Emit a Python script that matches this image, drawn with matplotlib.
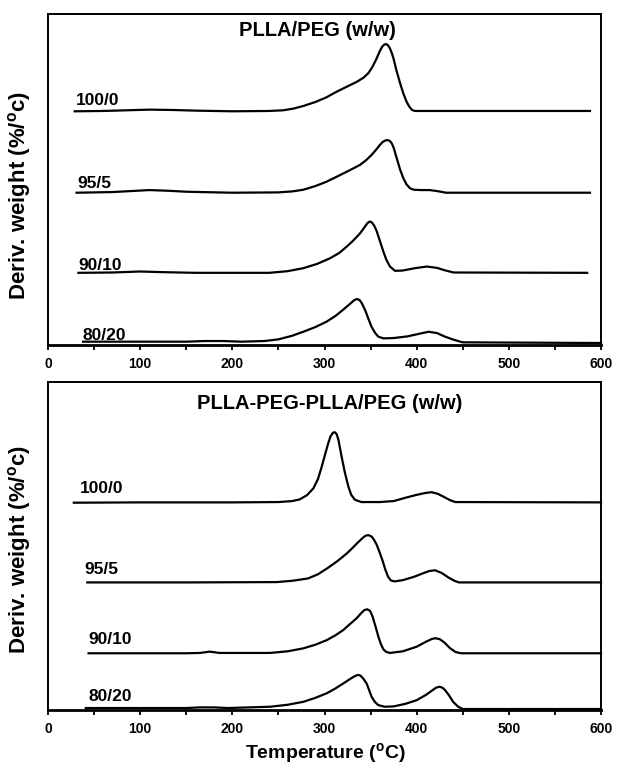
import matplotlib
matplotlib.use("Agg")
import matplotlib.pyplot as plt
from matplotlib.ticker import MultipleLocator

plt.rcParams['font.family'] = ['Liberation Sans', 'DejaVu Sans']
plt.rcParams['font.weight'] = 'bold'
plt.rcParams['mathtext.fontset'] = 'custom'
plt.rcParams['mathtext.rm'] = 'Liberation Sans:bold'
plt.rcParams['mathtext.it'] = 'Liberation Sans:bold'
plt.rcParams['mathtext.bf'] = 'Liberation Sans:bold'

# DTG curves: (temperature degC, relative height incl. offset)
top_title = "PLLA/PEG (w/w)"
bot_title = "PLLA-PEG-PLLA/PEG (w/w)"
ratios = ["100/0", "95/5", "90/10", "80/20"]

top_100_0 = [(29, 70.6), (60, 70.7), (85, 70.9), (110, 71.1), (135, 71.0), (160, 70.8), (200, 70.6),
             (240, 70.7), (255, 70.9), (266, 71.4), (277, 72.2), (290, 73.4), (302, 74.8), (313, 76.5),
             (324, 78.0), (335, 79.5), (342, 80.7), (347.5, 82.1), (352, 84.0), (356.6, 86.6), (360, 88.8),
             (362.5, 90.1), (365, 90.8), (367, 90.9), (369, 90.5), (371, 89.6), (373, 88.2), (375, 86.4),
             (378, 83.0), (382, 79.1), (385.5, 76.0), (389, 73.5), (392, 72.0), (395, 71.0), (398, 70.7),
             (588, 70.7)]
top_95_5 = [(31, 46.0), (70, 46.2), (90, 46.5), (110, 46.8), (130, 46.6), (150, 46.3), (200, 46.0),
            (250, 46.1), (265, 46.4), (277, 46.9), (290, 48.0), (302, 49.3), (313, 50.8), (326, 52.6),
            (338.5, 54.4), (345, 55.8), (351, 57.4), (356, 59.0), (360, 60.4), (363, 61.3), (366, 61.8),
            (368.5, 61.9), (371, 61.6), (373, 60.9), (375, 59.6), (378.3, 56.5), (382, 53.0), (385.5, 50.4),
            (389, 48.5), (393, 47.3), (397, 46.9), (405, 46.8), (414, 46.8), (422, 46.5), (432, 46.0),
            (588, 46.0)]
top_90_10 = [(33, 21.8), (70, 21.9), (100, 22.2), (125, 22.0), (160, 21.8), (240, 21.8), (260, 22.3),
             (277, 23.2), (292, 24.5), (306, 26.2), (316, 27.8), (324, 29.7), (331, 31.5), (338.5, 33.7),
             (344, 35.8), (346.5, 36.8), (349, 37.3), (351.5, 37.0), (354, 36.0), (356.6, 34.4), (360, 31.5),
             (363.9, 28.2), (367, 25.8), (371, 23.7), (376.5, 22.4), (385, 22.5), (398, 23.2), (411, 23.7),
             (422, 23.3), (430, 22.6), (440, 21.9), (585, 21.8)]
top_80_20 = [(38, 1.0), (150, 1.0), (170, 1.2), (190, 1.2), (210, 1.0), (235, 1.2), (250, 1.7), (265, 2.8),
             (277, 4.0), (290, 5.4), (302, 7.0), (312, 8.8), (320, 10.6), (328, 12.5), (332, 13.5),
             (335, 13.9), (338, 13.6), (340.5, 12.6), (344, 10.6), (347.5, 8.0), (351, 5.5), (355, 3.6),
             (358.4, 2.5), (364, 2.0), (375, 2.1), (390, 2.6), (403, 3.4), (413, 4.0), (422, 3.6), (430, 2.6),
             (440, 1.6), (450, 0.8), (600, 0.6)]

bot_100_0 = [(28, 63.2), (100, 63.3), (200, 63.3), (250, 63.4), (265, 63.7), (273, 64.2), (281, 65.5),
             (288, 67.6), (293, 70.5), (297, 74.2), (300.5, 77.8), (304, 81.3), (306.5, 83.4), (309, 84.5),
             (311, 84.7), (313, 84.2), (315, 82.5), (318.6, 77.2), (322, 72.5), (325.9, 68.1), (329, 65.6),
             (333, 64.1), (340, 63.4), (360, 63.4), (375, 63.7), (389, 64.8), (400, 65.6), (410, 66.2),
             (416.3, 66.4), (423, 65.9), (430, 64.9), (436, 64.0), (442, 63.4), (600, 63.3)]
bot_95_5 = [(42.6, 38.9), (150, 38.9), (248, 39.0), (265, 39.4), (282, 40.1), (293, 41.4), (303, 43.2),
            (314, 45.4), (324.5, 47.8), (331, 49.6), (337, 51.3), (342, 52.6), (345, 53.2), (348, 53.3),
            (351, 52.9), (353.5, 52.0), (356.4, 50.5), (359.5, 48.3), (362.8, 45.7), (366, 42.8),
            (369, 40.6), (372, 39.5), (376, 39.2), (385, 39.6), (397, 40.6), (408, 41.8), (414, 42.4),
            (420, 42.6), (427, 41.8), (435, 40.3), (441, 39.4), (446, 38.9), (600, 38.9)]
bot_90_10 = [(44, 17.3), (150, 17.3), (165, 17.4), (175.5, 17.8), (186, 17.4), (241, 17.4), (260, 17.9),
             (277, 18.8), (290, 19.9), (302.4, 21.3), (312, 22.8), (320.4, 24.4), (328, 26.3), (334.9, 28.0),
             (340, 29.6), (343.5, 30.5), (346.5, 30.7), (349.5, 30.2), (352, 28.6), (355, 25.8),
             (358.4, 22.4), (361, 20.2), (363.9, 18.5), (367, 17.7), (371, 17.4), (385, 17.9), (400, 19.3),
             (410, 20.8), (416, 21.6), (420, 21.9), (425, 21.6), (430, 20.6), (436, 18.9), (442, 17.7),
             (448, 17.3), (600, 17.3)]
bot_80_20 = [(41, 0.6), (150, 0.6), (165, 0.8), (180, 0.8), (195, 0.6), (241, 1.0), (260, 1.6), (277, 2.5),
             (290, 3.7), (302.4, 5.1), (312, 6.6), (320.4, 8.1), (328, 9.5), (332, 10.2), (336, 10.7),
             (339, 10.5), (342, 9.6), (345.7, 8.1), (348.5, 6.0), (351, 4.1), (354.5, 2.5), (358.4, 1.5),
             (365, 1.0), (375, 1.1), (388, 1.9), (400, 3.0), (410, 4.6), (417, 6.0), (421, 6.8), (424.6, 7.1),
             (428, 6.8), (431, 6.0), (435, 4.5), (439.5, 2.5), (445, 1.0), (450, 0.3), (600, 0.3)]

# label anchor (temperature, height)
top_label_pos = [(30, 73.8), (32, 48.7), (33, 23.9), (37.6, 3.0)]
bot_label_pos = [(35, 67.6), (40, 42.9), (43.4, 21.5), (43.4, 4.1)]


def draw_panel(ax, curves, label_pos, title, tx, ty):
    for c in curves:
        t = [p[0] for p in c]
        h = [p[1] for p in c]
        ax.plot(t, h, color='black', lw=1.6, solid_joinstyle='round', clip_on=False)
    for lab, (t, h) in zip(ratios, label_pos):
        ax.text(t, h, lab, fontsize=12.5, fontweight='bold', va='center', ha='left')
    ax.text(tx, ty, title, transform=ax.transAxes, fontsize=14.5, fontweight='bold',
            ha='center', va='center')
    ax.set_xlim(0, 600)
    ax.set_ylim(0, 100)
    ax.set_yticks([])
    ax.xaxis.set_major_locator(MultipleLocator(100))
    ax.xaxis.set_minor_locator(MultipleLocator(50))
    ax.tick_params(axis='x', which='both', direction='out', length=3.3, width=1.3,
                   labelsize=10, pad=5)
    for lab in ax.get_xticklabels():
        lab.set_fontweight('bold')
    for s in ax.spines.values():
        s.set_linewidth(1.4)
    ax.spines['bottom'].set_linewidth(2.0)


fig = plt.figure(figsize=(6.17, 7.68), dpi=100)
ax1 = fig.add_axes([0.0778, 0.5508, 0.8963, 0.431])
ax2 = fig.add_axes([0.0778, 0.0755, 0.8963, 0.4271])

draw_panel(ax1, [top_100_0, top_95_5, top_90_10, top_80_20], top_label_pos, top_title, 0.488, 0.949)
draw_panel(ax2, [bot_100_0, bot_95_5, bot_90_10, bot_80_20], bot_label_pos, bot_title, 0.509, 0.933)

ylab = r'Deriv. weight (%/$^{\rm o}$c)'
fig.text(0.0324, 0.746, ylab, rotation=90, ha='center', va='center', fontsize=16, fontweight='bold')
fig.text(0.0324, 0.284, ylab, rotation=90, ha='center', va='center', fontsize=16, fontweight='bold')
fig.text(0.527, 0.0195, r'Temperature ($^{\rm o}$C)', ha='center', va='center', fontsize=14,
         fontweight='bold')

fig.savefig('out.png', dpi=100)
